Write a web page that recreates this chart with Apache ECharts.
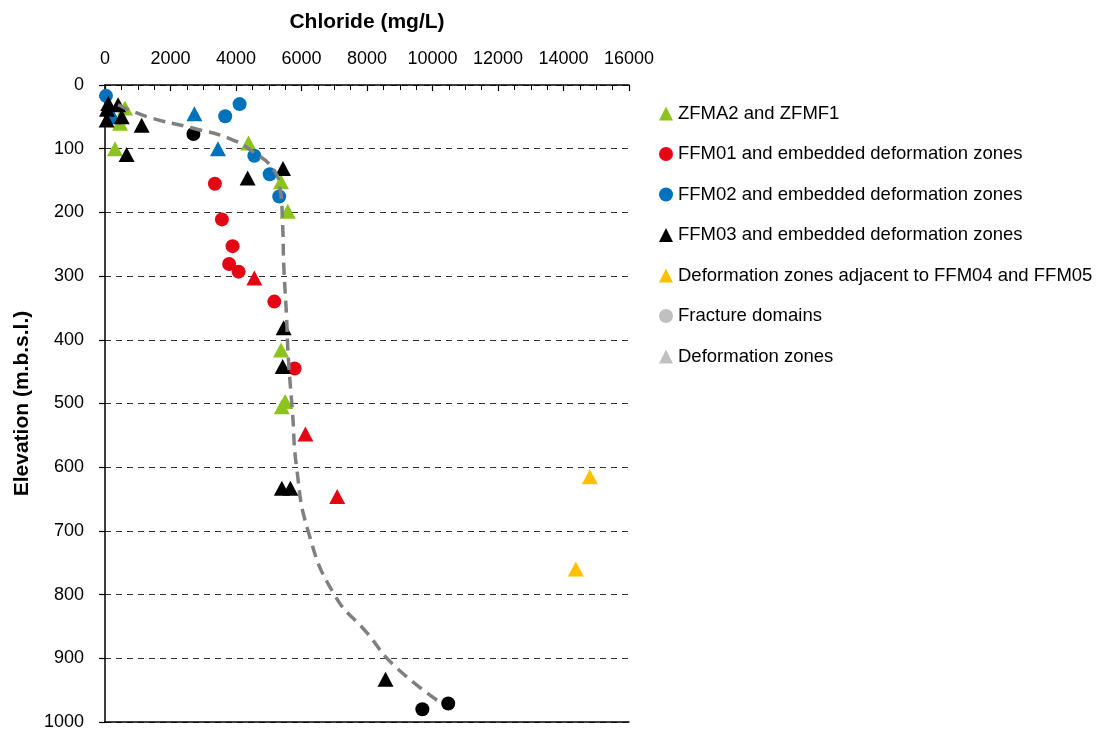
<!DOCTYPE html>
<html>
<head>
<meta charset="utf-8">
<script src="https://cdn.jsdelivr.net/npm/echarts@6/dist/echarts.min.js"></script>
<style>
  html, body { margin: 0; padding: 0; background: #fff; }
  #chart { width: 1100px; height: 731px; }
</style>
</head>
<body>
<div id="chart"></div>
<script>
// Chloride concentration (mg/L) versus elevation (m.b.s.l.), grouped by hydrogeological unit.
const xTicks = [0, 2000, 4000, 6000, 8000, 10000, 12000, 14000, 16000];
const yTicks = [0, 100, 200, 300, 400, 500, 600, 700, 800, 900, 1000];

const zfmaTriangles = [[610, 36], [460, 60], [305, 100], [4380, 91], [5375, 152], [5580, 198], [5375, 416], [5400, 505], [5500, 497]];
const ffm01Circles = [[3355, 155], [3570, 211], [3895, 253], [3790, 281], [4080, 293], [5170, 340], [5790, 445]];
const ffm01Triangles = [[4560, 303], [6120, 548], [7090, 646]];
const ffm02Circles = [[30, 17], [3670, 49], [4110, 30], [4560, 111], [5030, 140], [5320, 175]];
const ffm02Triangles = [[250, 50], [2730, 45], [3450, 100]];
const ffm03Triangles = [[100, 29], [60, 38], [400, 31], [50, 55], [510, 50], [1120, 63], [660, 109], [4355, 146], [5435, 131], [5455, 381], [5425, 442], [5400, 633], [5660, 633], [8565, 933]];
const ffm03Circles = [[2700, 77], [9690, 980], [10480, 971]];
const ffm0405Triangles = [[14805, 615], [14377, 760]];
const trendCurve = [[400, 31], [1300, 50], [2700, 68], [3800, 84], [4550, 106], [5150, 133], [5350, 165], [5420, 215], [5460, 285], [5540, 360], [5600, 430], [5720, 510], [5850, 600], [6200, 700], [7000, 800], [8000, 860], [8800, 910], [10200, 968]];

const names = {
  zfma: 'ZFMA2 and ZFMF1',
  ffm01: 'FFM01 and embedded deformation zones',
  ffm02: 'FFM02 and embedded deformation zones',
  ffm03: 'FFM03 and embedded deformation zones',
  ffm0405: 'Deformation zones adjacent to FFM04 and FFM05',
  fd: 'Fracture domains',
  dz: 'Deformation zones'
};

const colors = {
  green: '#8DC31E',
  red: '#E30613',
  blue: '#0072BC',
  black: '#000000',
  yellow: '#FFC000',
  grey: '#C0C0C0'
};

const font = 'Arial, "Liberation Sans", Helvetica, sans-serif';
const triSize = [16, 15];
const circSize = 14;

function scatter(name, data, symbol, color) {
  return {
    name: name,
    type: 'scatter',
    data: data,
    symbol: symbol,
    symbolSize: symbol === 'triangle' ? triSize : circSize,
    itemStyle: { color: color, opacity: 1 },
    emphasis: { disabled: true },
    z: 3
  };
}

const plainNumber = v => String(v);

const chart = echarts.init(document.getElementById('chart'), null, { renderer: 'canvas' });

chart.setOption({
  animation: false,
  backgroundColor: '#ffffff',
  grid: { left: 105, right: 471, top: 85, bottom: 9, containLabel: false, outerBoundsMode: 'none' },
  legend: {
    orient: 'vertical',
    left: 659,
    top: 104,
    padding: 0,
    itemWidth: 14,
    itemHeight: 14,
    itemGap: 21.5,
    selectedMode: false,
    textStyle: { fontFamily: font, fontSize: 18.5, color: '#000', lineHeight: 18 },
    data: [
      { name: names.zfma, icon: 'triangle' },
      { name: names.ffm01, icon: 'circle' },
      { name: names.ffm02, icon: 'circle' },
      { name: names.ffm03, icon: 'triangle' },
      { name: names.ffm0405, icon: 'triangle' },
      { name: names.fd, icon: 'circle' },
      { name: names.dz, icon: 'triangle' }
    ]
  },
  xAxis: [
    {
      type: 'value',
      position: 'top',
      min: xTicks[0],
      max: xTicks[xTicks.length - 1],
      interval: 2000,
      name: 'Chloride (mg/L)',
      nameLocation: 'middle',
      nameGap: 52,
      nameTextStyle: { fontFamily: font, fontSize: 21, fontWeight: 'bold', color: '#000' },
      axisLine: { show: true, onZero: false, lineStyle: { color: '#000', width: 1.5 } },
      axisTick: { show: true, inside: true, length: 6, lineStyle: { color: '#000', width: 1.2 } },
      minorTick: { show: true, splitNumber: 4, length: 5, lineStyle: { color: '#000', width: 1 } },
      axisLabel: { fontFamily: font, fontSize: 18, color: '#000', margin: 17, formatter: plainNumber },
      splitLine: { show: false }
    },
    {
      type: 'value',
      position: 'bottom',
      min: xTicks[0],
      max: xTicks[xTicks.length - 1],
      axisLine: { show: true, onZero: false, lineStyle: { color: '#000', width: 1.5 } },
      axisTick: { show: false },
      axisLabel: { show: false },
      splitLine: { show: false }
    }
  ],
  yAxis: {
    type: 'value',
    inverse: true,
    min: yTicks[0],
    max: yTicks[yTicks.length - 1],
    interval: 100,
    name: 'Elevation (m.b.s.l.)',
    nameLocation: 'middle',
    nameGap: 72,
    nameTextStyle: { fontFamily: font, fontSize: 21, fontWeight: 'bold', color: '#000' },
    axisLine: { show: true, onZero: false, lineStyle: { color: '#000', width: 1.5 } },
    axisTick: { show: true, inside: false, length: 6, lineStyle: { color: '#000', width: 1.2 } },
    axisLabel: { fontFamily: font, fontSize: 18, color: '#000', margin: 21, formatter: plainNumber },
    splitLine: { show: true, lineStyle: { color: '#333', width: 1, type: [6, 5] } }
  },
  series: [
    scatter(names.zfma, zfmaTriangles, 'triangle', colors.green),
    scatter(names.ffm01, ffm01Circles, 'circle', colors.red),
    scatter(names.ffm01, ffm01Triangles, 'triangle', colors.red),
    scatter(names.ffm02, ffm02Circles, 'circle', colors.blue),
    scatter(names.ffm02, ffm02Triangles, 'triangle', colors.blue),
    scatter(names.ffm03, ffm03Triangles, 'triangle', colors.black),
    scatter(names.ffm03, ffm03Circles, 'circle', colors.black),
    scatter(names.ffm0405, ffm0405Triangles, 'triangle', colors.yellow),
    scatter(names.fd, [], 'circle', colors.grey),
    scatter(names.dz, [], 'triangle', colors.grey),
    {
      name: 'trend',
      type: 'line',
      data: trendCurve,
      smooth: 0.5,
      symbol: 'none',
      lineStyle: { color: '#808080', width: 3.5, type: [12, 7] },
      emphasis: { disabled: true },
      z: 5
    }
  ]
});
</script>
</body>
</html>
